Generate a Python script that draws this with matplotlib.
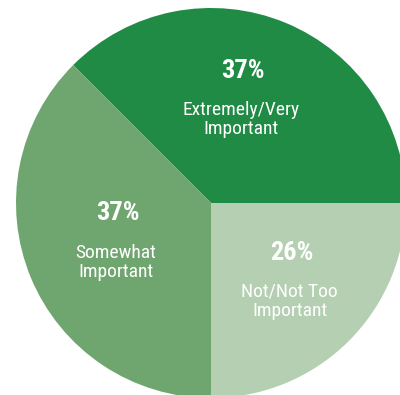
import numpy as np
import matplotlib.pyplot as plt

# Dades del gràfic (mida de les porcions llegida del dibuix, etiquetes tal com surten)
categories = ['Extremely/Very\nImportant', 'Somewhat\nImportant', 'Not/Not Too\nImportant']
porcions = [37.5, 37.5, 25]
percentatges = ['37%', '37%', '26%']
colors = ['#1f8b44', '#6fa66f', '#b4cfb1']

plt.rcParams['font.family'] = ['Roboto Condensed', 'Liberation Sans', 'DejaVu Sans']

fig = plt.figure(figsize=(4.0, 3.95), dpi=100, facecolor='white')
ax = fig.add_axes([0, 0, 1, 1])

wedges, _ = ax.pie(porcions, colors=colors, startangle=0, counterclock=True,
                   radius=1.0, wedgeprops=dict(linewidth=0))

# Centre del pastís a (211, 203) px, radi 195 px
r_px = 195.0
ax.set_xlim(-211 / r_px, (400 - 211) / r_px)
ax.set_ylim(-(395 - 203) / r_px, 203 / r_px)
ax.set_aspect('auto')
ax.axis('off')

# Etiquetes dins de cada porció (gir, radi, desplaçament vertical)
offsets = [(0.12, 0.0, 0.0), (0.0, -0.04, 0.02), (0.0, 0.0, 0.018)]
for w, cat, pct, (da, dr, dy) in zip(wedges, categories, percentatges, offsets):
    theta = np.deg2rad((w.theta1 + w.theta2) / 2) + da
    r = 0.57 + dr
    x, y = r * np.cos(theta), r * np.sin(theta) + dy
    ax.text(x + 0.01, y + 0.13, pct, ha='center', va='center', color='white',
            fontsize=19, fontweight='bold')
    ax.text(x, y - 0.12, cat, ha='center', va='center', color='white',
            fontsize=14, linespacing=1.07)

plt.savefig('out.png', dpi=100, facecolor='white')
